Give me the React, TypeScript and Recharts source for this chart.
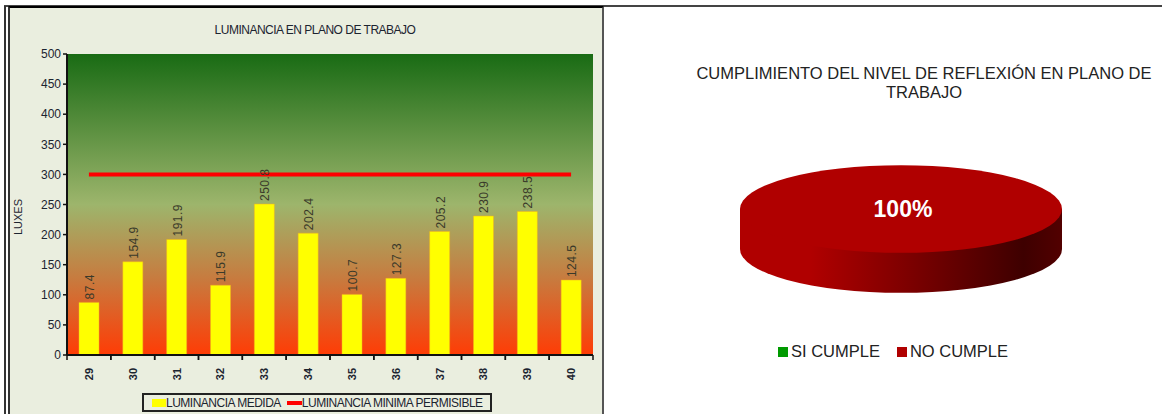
import React from 'react';
import {
  Bar,
  CartesianGrid,
  ComposedChart,
  LabelList,
  Legend,
  Line,
  Pie,
  PieChart,
  XAxis,
  YAxis,
} from 'recharts';

const puntos = ['29', '30', '31', '32', '33', '34', '35', '36', '37', '38', '39', '40'];
const medida = [87.4, 154.9, 191.9, 115.9, 250.8, 202.4, 100.7, 127.3, 205.2, 230.9, 238.5, 124.5];
const minima = [300, 300, 300, 300, 300, 300, 300, 300, 300, 300, 300, 300];
const yTicks = [0, 50, 100, 150, 200, 250, 300, 350, 400, 450, 500];

const cumplimiento = ['SI CUMPLE', 'NO CUMPLE'];
const cumplimientoValores = [0, 100];
const cumplimientoColores = ['#009A00', '#B00000'];

const barData = puntos.map((punto, i) => ({ punto, medida: medida[i], minima: minima[i] }));
const pieData = cumplimiento.map((name, i) => ({
  name,
  value: cumplimientoValores[i],
  fill: cumplimientoColores[i],
}));

const ARIAL = '"Liberation Sans", Arial, sans-serif';
const TEXT = '#1c2430';
const TILT = 0.272; // vertical squash of the pie disc
const DEPTH = 40; // height of the disc wall

// Rotated value above each bar
const BarValue = ({ x, y, width, value }: any) => {
  const px = x + width / 2 + 5;
  const py = y - 3;
  return (
    <text
      x={px}
      y={py}
      transform={`rotate(-90 ${px} ${py})`}
      fontFamily={ARIAL}
      fontSize={12}
      letterSpacing={0.5}
      fill="#3a3a2a"
    >
      {Number(value).toFixed(1)}
    </text>
  );
};

// Category label plus tick marks on the band edges
const PuntoTick = ({ x, y, payload, width, visibleTicksCount }: any) => {
  const band = width / visibleTicksCount;
  const px = x + 4;
  const py = y + 11;
  return (
    <g>
      <line x1={x - band / 2} x2={x - band / 2} y1={y - 8} y2={y - 3} stroke="#111" strokeWidth={1.5} />
      <line x1={x + band / 2} x2={x + band / 2} y1={y - 8} y2={y - 3} stroke="#111" strokeWidth={1.5} />
      <text
        x={px}
        y={py}
        transform={`rotate(-90 ${px} ${py})`}
        textAnchor="middle"
        fontFamily={ARIAL}
        fontSize={11}
        fontWeight="bold"
        fill={TEXT}
      >
        {payload.value}
      </text>
    </g>
  );
};

// Axis title, set a little below the middle of the plot
const LuxesLabel = () => (
  <text
    x={12}
    y={209}
    transform="rotate(-90 12 209)"
    textAnchor="middle"
    fontFamily={ARIAL}
    fontSize={11}
    fill={TEXT}
  >
    LUXES
  </text>
);

const BarLegend = () => (
  <div
    style={{
      boxSizing: 'border-box',
      width: 350,
      height: 19,
      border: '2px solid #222',
      display: 'flex',
      alignItems: 'center',
      paddingLeft: 8,
      fontFamily: ARIAL,
      fontSize: 12,
      letterSpacing: -0.5,
      color: TEXT,
      whiteSpace: 'nowrap',
    }}
  >
    <span style={{ width: 14, height: 8, background: '#FFFF00', display: 'inline-block' }} />
    <span style={{ marginRight: 6 }}>LUMINANCIA MEDIDA</span>
    <span style={{ width: 15, height: 4, background: '#FF0000', display: 'inline-block' }} />
    <span>LUMINANCIA MINIMA PERMISIBLE</span>
  </div>
);

// Sector flattened into an ellipse, with its wall drawn underneath
const DiscSector = ({ cx, cy, outerRadius, startAngle, endAngle, fill }: any) => {
  if (Math.abs(endAngle - startAngle) < 0.01) return null;
  const rx = outerRadius;
  const ry = outerRadius * TILT;
  const wall = `M ${cx - rx} ${cy} L ${cx + rx} ${cy} L ${cx + rx} ${cy + DEPTH} A ${rx} ${ry} 0 0 1 ${cx - rx} ${cy + DEPTH} Z`;
  return (
    <g>
      <path d={wall} fill="url(#discWall)" />
      <ellipse cx={cx} cy={cy} rx={rx} ry={ry} fill={fill} />
    </g>
  );
};

const DiscLabel = ({ cx, cy, percent }: any) =>
  percent > 0 ? (
    <text
      x={cx + 2}
      y={cy + 8}
      textAnchor="middle"
      fontFamily={ARIAL}
      fontSize={23}
      fontWeight="bold"
      fill="#FFFFFF"
    >
      {`${Math.round(percent * 100)}%`}
    </text>
  ) : null;

const PieLegend = () => (
  <div
    style={{
      display: 'flex',
      alignItems: 'center',
      fontFamily: ARIAL,
      fontSize: 16.5,
      color: '#222',
      whiteSpace: 'nowrap',
    }}
  >
    {pieData.map((d, i) => (
      <span key={d.name} style={{ display: 'flex', alignItems: 'center', marginRight: i === 0 ? 17 : 0 }}>
        <span style={{ width: 10, height: 10, background: d.fill, display: 'inline-block', marginRight: 3 }} />
        {d.name}
      </span>
    ))}
  </div>
);

export default function App() {
  return (
    <div
      style={{
        position: 'fixed',
        left: 0,
        top: 0,
        width: 1162,
        height: 414,
        background: '#fff',
        overflow: 'hidden',
      }}
    >
      {/* rules of the page table */}
      <div style={{ position: 'absolute', left: 4, top: 5, width: 1158, height: 2, background: '#444' }} />
      <div style={{ position: 'absolute', left: 4, top: 6, width: 40, height: 408, borderLeft: '2px solid #333' }} />

      <div
        style={{
          position: 'absolute',
          left: 8,
          top: 6,
          width: 596,
          height: 420,
          boxSizing: 'border-box',
          borderLeft: '2px solid #333',
          borderTop: '2px solid #000',
          borderRight: '2px solid #555',
          background: '#EAEEDF',
        }}
      >
        <ComposedChart
          width={592}
          height={412}
          data={barData}
          barSize={20}
          margin={{ top: 46, right: 9, bottom: 16, left: 7 }}
        >
          <defs>
            <linearGradient id="plotFill" x1="0" y1="0" x2="0" y2="1">
              <stop offset="0%" stopColor="#196B14" />
              <stop offset="50%" stopColor="#9DB56C" />
              <stop offset="75%" stopColor="#C87A3E" />
              <stop offset="100%" stopColor="#FF3C05" />
            </linearGradient>
          </defs>
          <text
            x={305}
            y={26}
            textAnchor="middle"
            fontFamily={ARIAL}
            fontSize={12}
            letterSpacing={-0.5}
            fill={TEXT}
          >
            LUMINANCIA EN PLANO DE TRABAJO
          </text>
          <LuxesLabel />
          <CartesianGrid horizontal={false} vertical={false} fill="url(#plotFill)" />
          <XAxis
            dataKey="punto"
            interval={0}
            axisLine={{ stroke: '#111', strokeWidth: 2 }}
            tickLine={false}
            tick={<PuntoTick />}
          />
          <YAxis
            domain={[0, 500]}
            ticks={yTicks}
            interval={0}
            width={50}
            axisLine={{ stroke: '#111', strokeWidth: 2 }}
            tickLine={{ stroke: '#111', strokeWidth: 1.5 }}
            tickSize={4}
            tick={{ fontFamily: ARIAL, fontSize: 12, fill: TEXT }}
          />
          <Bar dataKey="medida" name="LUMINANCIA MEDIDA" fill="#FFFF00" stroke="#F0B020" strokeWidth={0.5} isAnimationActive={false}>
            <LabelList dataKey="medida" content={<BarValue />} />
          </Bar>
          <Line
            dataKey="minima"
            name="LUMINANCIA MINIMA PERMISIBLE"
            stroke="#FF0000"
            strokeWidth={4}
            dot={false}
            activeDot={false}
            isAnimationActive={false}
          />
          <Legend
            content={<BarLegend />}
            wrapperStyle={{ position: 'absolute', left: 132, top: 385, width: 350, height: 19, bottom: 'auto' }}
          />
        </ComposedChart>
      </div>

      <div style={{ position: 'absolute', left: 640, top: 50 }}>
        <PieChart width={522} height={330}>
          <defs>
            <linearGradient id="discWall" x1="0" y1="0" x2="1" y2="0">
              <stop offset="0%" stopColor="#B00000" />
              <stop offset="22%" stopColor="#B00000" />
              <stop offset="55%" stopColor="#780000" />
              <stop offset="88%" stopColor="#3E0000" />
              <stop offset="100%" stopColor="#520000" />
            </linearGradient>
          </defs>
          <text x={284} y={29} textAnchor="middle" fontFamily={ARIAL} fontSize={16.5} fill="#222">
            CUMPLIMIENTO DEL NIVEL DE REFLEXIÓN EN PLANO DE
          </text>
          <text x={284} y={48} textAnchor="middle" fontFamily={ARIAL} fontSize={16.5} fill="#222">
            TRABAJO
          </text>
          <Pie
            data={pieData}
            dataKey="value"
            nameKey="name"
            cx={256}
            cy={154}
            outerRadius={161}
            startAngle={90}
            endAngle={-270}
            stroke="none"
            shape={<DiscSector />}
            label={<DiscLabel />}
            labelLine={false}
            isAnimationActive={false}
          />
          <Legend
            content={<PieLegend />}
            wrapperStyle={{ position: 'absolute', left: 138, top: 292, width: 280, bottom: 'auto' }}
          />
        </PieChart>
      </div>
    </div>
  );
}
